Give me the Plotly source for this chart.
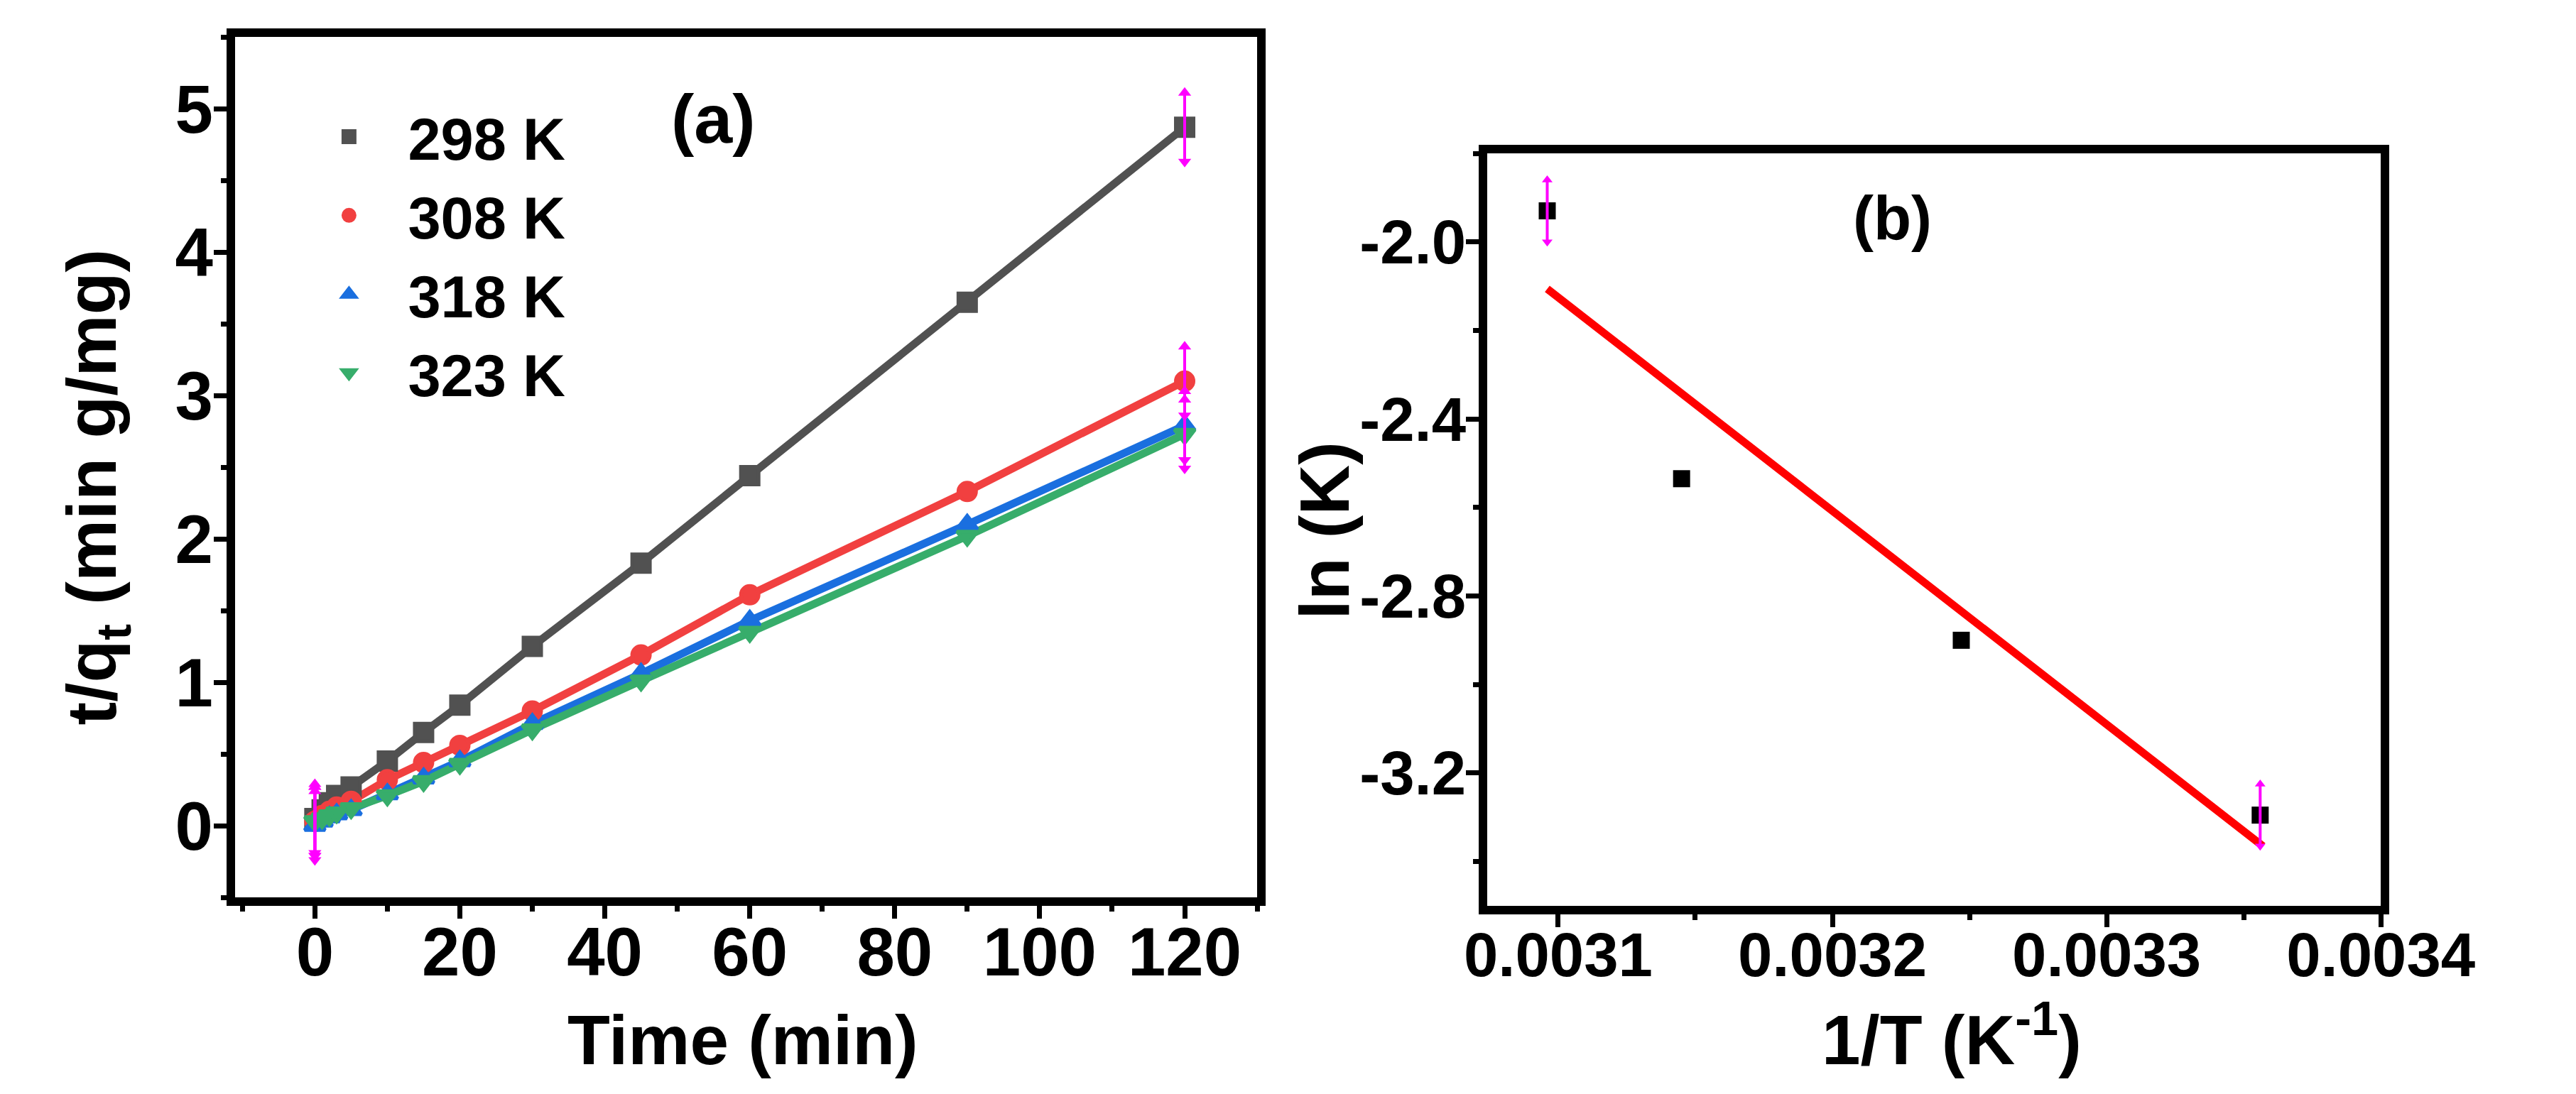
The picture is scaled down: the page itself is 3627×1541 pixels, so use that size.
import plotly.graph_objects as go

# (a) pseudo-second-order plot: t/qt versus time for four temperatures
time_min = [0, 1, 2, 3, 5, 10, 15, 20, 30, 45, 60, 90, 120]
t_qt_298 = [0.05, 0.11, 0.16, 0.21, 0.27, 0.45, 0.65, 0.84, 1.25, 1.83, 2.44, 3.65, 4.87]
t_qt_308 = [0.03, 0.07, 0.10, 0.13, 0.17, 0.32, 0.44, 0.56, 0.80, 1.19, 1.61, 2.33, 3.10]
t_qt_318 = [0.00, 0.03, 0.06, 0.08, 0.11, 0.22, 0.33, 0.45, 0.71, 1.06, 1.43, 2.10, 2.79]
t_qt_323 = [0.03, 0.05, 0.07, 0.09, 0.12, 0.21, 0.31, 0.43, 0.67, 1.01, 1.35, 2.02, 2.73]
series_names = ["298 K", "308 K", "318 K", "323 K"]

# (b) van't Hoff plot
inv_T = [0.003096, 0.003145, 0.003247, 0.003356]
ln_K = [-1.93, -2.535, -2.90, -3.295]
fit_inv_T = [0.003096, 0.003357]
fit_ln_K = [-2.106, -3.365]

x2_tick_vals = [0.0031, 0.0032, 0.0033, 0.0034]
x2_tick_text = ["0.0031", "0.0032", "0.0033", "0.0034"]
y2_tick_vals = [-2.0, -2.4, -2.8, -3.2]
y2_tick_text = ["-2.0", "-2.4", "-2.8", "-3.2"]

colors = ["#515151", "#F14040", "#1A6FDF", "#37AD6B"]
symbols = ["square", "circle", "triangle-up", "triangle-down"]
FONT = "Liberation Sans"
MAGENTA = "#FF00FF"
W, H = 3627, 1541


def arrow_trace(xs, ys, half, size, xaxis, yaxis):
    # vertical magenta double arrows (Origin data-marker style)
    ax, ay, sym = [], [], []
    for x, y in zip(xs, ys):
        ax += [x, x, None]
        ay += [y - half, y + half, None]
        sym += ["triangle-down", "triangle-up", "circle"]
    return go.Scatter(x=ax, y=ay, mode="lines+markers", xaxis=xaxis, yaxis=yaxis,
                      line=dict(color=MAGENTA, width=4),
                      marker=dict(color=MAGENTA, size=size, symbol=sym),
                      showlegend=False, hoverinfo="skip")


fig = go.Figure()

all_series = [t_qt_298, t_qt_308, t_qt_318, t_qt_323]
for name, ys, c in zip(series_names, all_series, colors):
    fig.add_trace(go.Scatter(x=time_min, y=ys, mode="lines", line=dict(color=c, width=11),
                             showlegend=False, xaxis="x", yaxis="y"))
for name, ys, c, s in zip(series_names, all_series, colors, symbols):
    # the outline makes the (size-capped) legend symbols a bit bigger
    fig.add_trace(go.Scatter(x=time_min, y=ys, mode="markers", name=name,
                             marker=dict(color=c, symbol=s, size=25, line=dict(color=c, width=5)),
                             xaxis="x", yaxis="y"))
fig.add_trace(arrow_trace([time_min[0]] * 4 + [time_min[-1]] * 4,
                          [s[0] for s in all_series] + [s[-1] for s in all_series],
                          0.24, 16, "x", "y"))

fig.add_trace(go.Scatter(x=fit_inv_T, y=fit_ln_K, mode="lines", line=dict(color="#FF0000", width=11),
                         showlegend=False, xaxis="x2", yaxis="y2"))
fig.add_trace(go.Scatter(x=inv_T, y=ln_K, mode="markers", marker=dict(color="black", symbol="square", size=24),
                         showlegend=False, xaxis="x2", yaxis="y2"))
fig.add_trace(arrow_trace([inv_T[0], inv_T[-1]], [ln_K[0], ln_K[-1]], 0.07, 13, "x2", "y2"))


def axis_style(font_size, standoff):
    return dict(showline=True, linecolor="black", linewidth=12, mirror=True, ticks="outside",
                ticklen=18, tickwidth=7, tickcolor="black", showgrid=False, zeroline=False,
                ticklabelstandoff=standoff,
                tickfont=dict(family=FONT, size=font_size, color="black", weight="bold"))


def minor_style(dtick, tick0):
    return dict(dtick=dtick, tick0=tick0, ticks="outside", ticklen=8, tickwidth=7, tickcolor="black")


fig.update_layout(
    width=W, height=H, margin=dict(l=0, r=0, t=0, b=0),
    paper_bgcolor="white", plot_bgcolor="white",
    xaxis=dict(domain=[304 / W, 1812 / W], range=[-11, 130], dtick=20, tick0=0,
               minor=minor_style(10, 0), anchor="y", **axis_style(96, -35)),
    yaxis=dict(domain=[1 - 1256 / H, 1 - 44 / H], range=[-0.5, 5.5], dtick=1, tick0=0,
               minor=minor_style(0.5, 0), anchor="x", **axis_style(96, -18)),
    xaxis2=dict(domain=[2151 / W, 3470 / W], range=[0.003074, 0.0034],
                tickmode="array", tickvals=x2_tick_vals, ticktext=x2_tick_text,
                minor=minor_style(0.00005, 0.0031), anchor="y2", **axis_style(87, -35)),
    yaxis2=dict(domain=[1 - 1268 / H, 1 - 208 / H], range=[-3.5, -1.8],
                tickmode="array", tickvals=y2_tick_vals, ticktext=y2_tick_text,
                minor=minor_style(0.2, -2.0), anchor="x2", **axis_style(87, -18)),
    legend=dict(x=385 / W, y=1 - 124 / H, xanchor="left", yanchor="top",
                font=dict(family=FONT, size=83, color="black", weight="bold"),
                bgcolor="rgba(0,0,0,0)", itemwidth=156, tracegroupgap=0),
    showlegend=True,
)

title_font = dict(family=FONT, size=98, color="black", weight="bold")
fig.add_annotation(text="Time (min)", xref="paper", yref="paper", x=1053 / W, y=1 - 1457 / H,
                   showarrow=False, font=title_font, xanchor="center", yanchor="middle")
fig.add_annotation(text="t/q<sub>t</sub> (min g/mg)", xref="paper", yref="paper", x=100 / W, y=0.56,
                   showarrow=False, font=title_font, textangle=-90, xanchor="center", yanchor="middle")
fig.add_annotation(text="1/T (K<sup>-1</sup>)", xref="paper", yref="paper", x=2837 / W, y=1 - 1450 / H,
                   showarrow=False, font=title_font, xanchor="center", yanchor="middle")
fig.add_annotation(text="ln (K)", xref="paper", yref="paper", x=1911 / W, y=1 - 740 / H,
                   showarrow=False, font=title_font, textangle=-90, xanchor="center", yanchor="middle")

fig.add_annotation(text="(a)", xref="x", yref="y", x=55, y=4.93, showarrow=False,
                   font=dict(family=FONT, size=97, color="black", weight="bold"))
fig.add_annotation(text="(b)", xref="x2", yref="y2", x=0.003222, y=-1.945, showarrow=False,
                   font=dict(family=FONT, size=87, color="black", weight="bold"))

fig.write_html("out.html")
